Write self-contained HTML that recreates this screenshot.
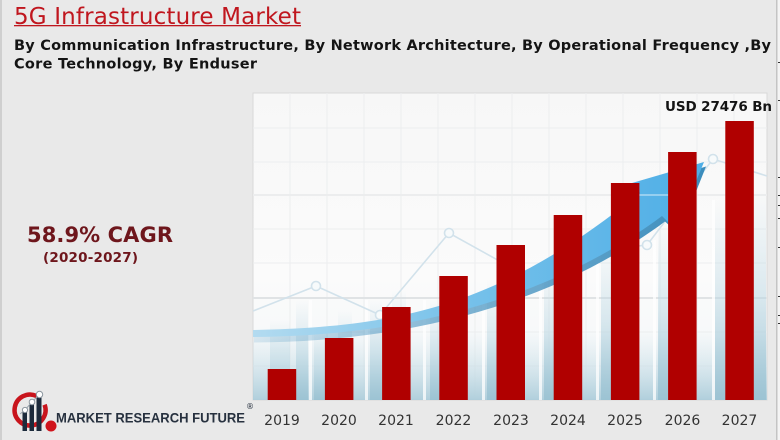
<!DOCTYPE html>
<html>
<head>
<meta charset="utf-8">
<style>
  html,body{margin:0;padding:0;background:#e9e9e9;}
  svg{display:block;}
  text{font-family:"DejaVu Sans","Liberation Sans",sans-serif;}
</style>
</head>
<body>
<svg width="780" height="440" viewBox="0 0 780 440" xmlns="http://www.w3.org/2000/svg">
  <defs>
    <linearGradient id="panelBg" x1="0" y1="0" x2="0" y2="1">
      <stop offset="0" stop-color="#f7f7f7"/>
      <stop offset="0.6" stop-color="#fbfbfb"/>
      <stop offset="1" stop-color="#f2f6f8"/>
    </linearGradient>
    <linearGradient id="colGrad" x1="0" y1="0" x2="0" y2="1">
      <stop offset="0" stop-color="#b9d6e2" stop-opacity="0"/>
      <stop offset="0.5" stop-color="#b9d6e2" stop-opacity="0.5"/>
      <stop offset="1" stop-color="#9cc3d3" stop-opacity="1"/>
    </linearGradient>
    <linearGradient id="bottomGrad" x1="0" y1="0" x2="0" y2="1">
      <stop offset="0" stop-color="#cfe3eb" stop-opacity="0"/>
      <stop offset="1" stop-color="#a9cbd9" stop-opacity="0.9"/>
    </linearGradient>
    <linearGradient id="arrowGrad" x1="0" y1="0" x2="1" y2="0">
      <stop offset="0" stop-color="#b3dbf0"/>
      <stop offset="0.45" stop-color="#78c2ea"/>
      <stop offset="1" stop-color="#4eaee6"/>
    </linearGradient>
    <linearGradient id="shadowGrad" x1="0" y1="0" x2="1" y2="0">
      <stop offset="0" stop-color="#3a8cbc" stop-opacity="0.15"/>
      <stop offset="0.4" stop-color="#3a8cbc" stop-opacity="0.6"/>
      <stop offset="1" stop-color="#3a8cbc" stop-opacity="1"/>
    </linearGradient>
  </defs>

  <!-- page background -->
  <rect x="0" y="0" width="780" height="440" fill="#e9e9e9"/>
  <rect x="0" y="0" width="2" height="440" fill="#cfcfcf"/>
  <rect x="776" y="0" width="1.5" height="440" fill="#c4c4c4"/>
  <rect x="777.5" y="0" width="2.5" height="440" fill="#f4f4f4"/>
  <g fill="#333">
    <rect x="778" y="62" width="2" height="1"/><rect x="778" y="100" width="2" height="1"/>
    <rect x="778" y="177" width="2" height="1"/><rect x="778" y="195" width="2" height="1"/>
    <rect x="778" y="205" width="2" height="1"/><rect x="778" y="218" width="2" height="1"/>
    <rect x="778" y="247" width="2" height="1"/><rect x="778" y="296" width="2" height="1"/>
    <rect x="778" y="315" width="2" height="1"/><rect x="778" y="323" width="2" height="1"/>
  </g>

  <!-- title -->
  <text x="14" y="24" font-size="23" fill="#c0161e" textLength="287" lengthAdjust="spacing">5G Infrastructure Market</text>
  <rect x="14" y="25" width="287" height="1.3" fill="#c0161e"/>

  <!-- subtitle -->
  <text x="14" y="50" font-size="14.5" font-weight="bold" fill="#141414" textLength="757" lengthAdjust="spacing">By Communication Infrastructure, By Network Architecture, By Operational Frequency ,By</text>
  <text x="14" y="68.5" font-size="14.5" font-weight="bold" fill="#141414" textLength="243" lengthAdjust="spacing">Core Technology, By Enduser</text>

  <!-- CAGR -->
  <text x="27" y="242" font-size="21" font-weight="bold" fill="#6e161c" textLength="146" lengthAdjust="spacing">58.9% CAGR</text>
  <text x="43" y="262" font-size="13.5" font-weight="bold" fill="#6e161c" textLength="95" lengthAdjust="spacing">(2020-2027)</text>

  <!-- chart panel -->
  <rect x="253" y="93" width="514" height="307" fill="url(#panelBg)" stroke="#d9d9d9" stroke-width="1"/>
  <!-- minor grid -->
  <g stroke="#eceeef" stroke-width="1">
    <line x1="253" y1="128" x2="767" y2="128"/>
    <line x1="253" y1="162" x2="767" y2="162"/>
    <line x1="253" y1="229" x2="767" y2="229"/>
    <line x1="253" y1="263" x2="767" y2="263"/>
    <line x1="253" y1="332" x2="767" y2="332"/>
    <line x1="253" y1="366" x2="767" y2="366"/>
    <line x1="290" y1="93" x2="290" y2="400"/>
    <line x1="327" y1="93" x2="327" y2="400"/>
    <line x1="364" y1="93" x2="364" y2="400"/>
    <line x1="401" y1="93" x2="401" y2="400"/>
    <line x1="438" y1="93" x2="438" y2="400"/>
    <line x1="475" y1="93" x2="475" y2="400"/>
    <line x1="512" y1="93" x2="512" y2="400"/>
    <line x1="549" y1="93" x2="549" y2="400"/>
    <line x1="586" y1="93" x2="586" y2="400"/>
    <line x1="623" y1="93" x2="623" y2="400"/>
    <line x1="660" y1="93" x2="660" y2="400"/>
    <line x1="697" y1="93" x2="697" y2="400"/>
    <line x1="734" y1="93" x2="734" y2="400"/>
  </g>
  <!-- major grid -->
  <g stroke="#e0e3e5" stroke-width="2">
    <line x1="253" y1="195" x2="767" y2="195"/>
    <line x1="253" y1="298" x2="767" y2="298"/>
  </g>

  <!-- bottom bluish background columns -->
  <rect x="253" y="330" width="514" height="70" fill="url(#bottomGrad)"/>
  <g fill="url(#colGrad)">
    <rect x="270" y="320" width="20" height="80"/>
    <rect x="296" y="300" width="12" height="100"/>
    <rect x="314" y="330" width="14" height="70"/>
    <rect x="338" y="310" width="14" height="90"/>
    <rect x="370" y="300" width="12" height="100"/>
    <rect x="392" y="290" width="14" height="110"/>
    <rect x="430" y="300" width="12" height="100"/>
    <rect x="448" y="280" width="14" height="120"/>
    <rect x="487" y="280" width="12" height="120"/>
    <rect x="506" y="270" width="14" height="130"/>
    <rect x="544" y="260" width="12" height="140"/>
    <rect x="562" y="250" width="14" height="150"/>
    <rect x="601" y="240" width="12" height="160"/>
    <rect x="620" y="230" width="14" height="170"/>
    <rect x="658" y="220" width="12" height="180"/>
    <rect x="676" y="210" width="14" height="190"/>
    <rect x="715" y="200" width="12" height="200"/>
    <rect x="740" y="190" width="26" height="210"/>
  </g>
  <g fill="#ffffff" opacity="0.75">
    <rect x="309" y="300" width="3" height="100"/>
    <rect x="365" y="300" width="3" height="100"/>
    <rect x="423" y="300" width="3" height="100"/>
    <rect x="482" y="290" width="3" height="110"/>
    <rect x="539" y="280" width="3" height="120"/>
    <rect x="596" y="260" width="3" height="140"/>
    <rect x="653" y="240" width="3" height="160"/>
    <rect x="712" y="200" width="3" height="200"/>
  </g>

  <!-- faint line chart -->
  <polyline points="253,311 316,286 380,315 449,233 530,278 583,252 647,245 713,159 767,176"
            fill="none" stroke="#d2e2eb" stroke-width="1.6"/>
  <g fill="#f7fafb" stroke="#d2e2eb" stroke-width="1.6">
    <circle cx="316" cy="286" r="4.5"/>
    <circle cx="380" cy="315" r="4.5"/>
    <circle cx="449" cy="233" r="4.5"/>
    <circle cx="647" cy="245" r="4.5"/>
    <circle cx="713" cy="159" r="4.5"/>
  </g>

  <!-- blue arrow -->
  <path d="M253,331 C400,328 500,308 640,196 L634,186 L705,164 L678,232 L664,219 C560,296 420,339 253,340 Z"
        fill="url(#shadowGrad)" transform="translate(1,2.5)"/>
  <path d="M253,330 C400,327 500,306 640,193 L632,183 L704,162 L676,230 L662,216 C560,292 420,336 253,337 Z"
        fill="url(#arrowGrad)"/>
  <line x1="253" y1="195" x2="767" y2="195" stroke="#ffffff" stroke-width="1.2" opacity="0.6"/>

  <!-- bars -->
  <g fill="#b00000">
    <rect x="267.7" y="369" width="28.5" height="31"/>
    <rect x="324.9" y="338" width="28.5" height="62"/>
    <rect x="382.1" y="307" width="28.5" height="93"/>
    <rect x="439.3" y="276" width="28.5" height="124"/>
    <rect x="496.5" y="245" width="28.5" height="155"/>
    <rect x="553.7" y="215" width="28.5" height="185"/>
    <rect x="610.9" y="183" width="28.5" height="217"/>
    <rect x="668.1" y="152" width="28.5" height="248"/>
    <rect x="725.3" y="121" width="28.5" height="279"/>
  </g>

  <!-- value label -->
  <text x="665" y="111" font-size="13.5" font-weight="bold" fill="#141414" textLength="107" lengthAdjust="spacing">USD 27476 Bn</text>

  <!-- year labels -->
  <g font-size="14" fill="#333" text-anchor="middle">
    <text x="282" y="425">2019</text>
    <text x="339" y="425">2020</text>
    <text x="396" y="425">2021</text>
    <text x="453.5" y="425">2022</text>
    <text x="511" y="425">2023</text>
    <text x="568" y="425">2024</text>
    <text x="625" y="425">2025</text>
    <text x="682.5" y="425">2026</text>
    <text x="739.5" y="425">2027</text>
  </g>

  <!-- logo -->
  <g>
    <path d="M44.6,404.7 A15.5,15.5 0 1 1 36.6,396" fill="none" stroke="#c8141c" stroke-width="4.5"/>
    <circle cx="51" cy="426" r="5.5" fill="#d0141c"/>
    <g fill="#1c2a3b">
      <rect x="22.5" y="411" width="4.5" height="20"/>
      <rect x="29.5" y="404" width="4.5" height="27"/>
      <rect x="36.5" y="396" width="5" height="35"/>
    </g>
    <polyline points="20,414 25,410 32,402 39,395" fill="none" stroke="#9aa4ad" stroke-width="1"/>
    <g fill="#ffffff" stroke="#8c969f" stroke-width="1">
      <circle cx="25" cy="410" r="2.6"/>
      <circle cx="32" cy="402" r="2.8"/>
      <circle cx="39.5" cy="394.5" r="3.2"/>
    </g>
  </g>
  <text x="56" y="422.5" font-size="14" font-weight="bold" fill="#27313f" textLength="189" lengthAdjust="spacingAndGlyphs" style="font-family:'Liberation Sans',sans-serif">MARKET RESEARCH FUTURE</text>
  <text x="246" y="409" font-size="8" fill="#27313f">®</text>
</svg>
</body>
</html>
